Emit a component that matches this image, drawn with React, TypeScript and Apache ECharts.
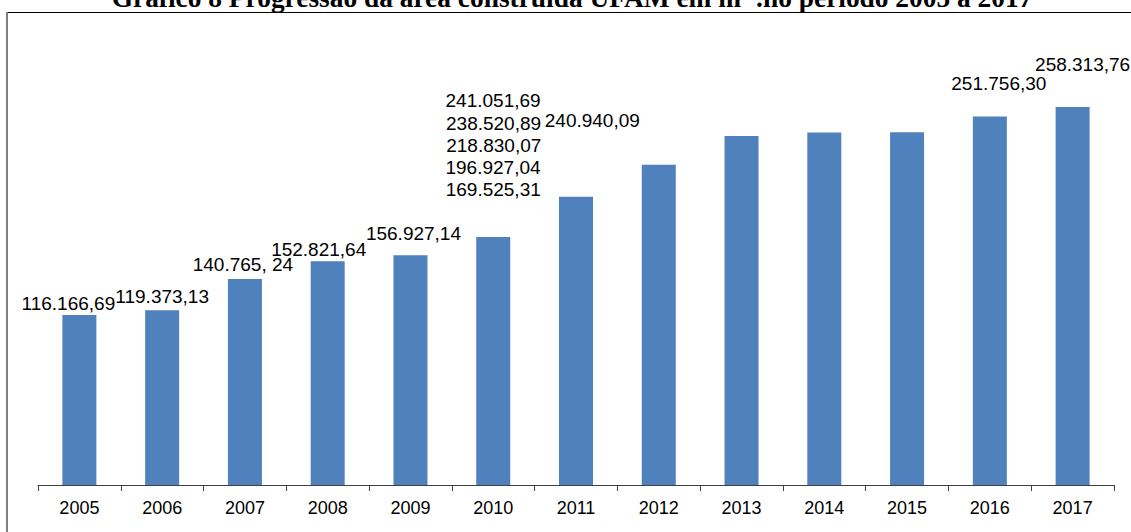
import React, { useEffect, useRef } from "react";
import * as echarts from "echarts";

const categories = ["2005", "2006", "2007", "2008", "2009", "2010", "2011", "2012", "2013", "2014", "2015", "2016", "2017"];
const values = [116166.69, 119373.13, 140765.24, 152821.64, 156927.14, 169525.31, 196927.04, 218830.07, 238520.89, 240940.09, 241051.69, 251756.3, 258313.76];
const valueLabels = ["116.166,69", "119.373,13", "140.765, 24", "152.821,64", "156.927,14", "169.525,31", "196.927,04", "218.830,07", "238.520,89", "240.940,09", "241.051,69", "251.756,30", "258.313,76"];
const labelOffsets: [number, number][] = [
  [-11, 3], [0, 1], [-2, 0], [-9, 3], [3, -7], [0, -33], [-83, -15],
  [-165, -5], [-248, 2], [-232, 3], [-414, -17], [9, -19], [10, -28],
];
const titleText = "Gráfico 8 Progressão da área construída UFAM em m² .no período 2005 a 2017";

export default function App() {
  const ref = useRef<HTMLDivElement>(null);
  useEffect(() => {
    document.body.style.margin = "0";
    const chart = echarts.init(ref.current!, null, { renderer: "svg" });
    chart.setOption({
      animation: false,
      backgroundColor: "#ffffff",
      grid: { left: 38, right: 17, top: 46, bottom: 47, containLabel: false },
      xAxis: {
        type: "category",
        data: categories,
        boundaryGap: true,
        axisLine: { show: true, lineStyle: { color: "#404040", width: 1 } },
        axisTick: { show: true, alignWithLabel: false, length: 6, lineStyle: { color: "#404040" } },
        axisLabel: { color: "#000", fontSize: 18, fontFamily: "Liberation Sans", margin: 14 },
      },
      yAxis: {
        type: "value",
        min: 0,
        max: 300000,
        show: false,
        splitLine: { show: false },
      },
      graphic: [
        { type: "line", shape: { x1: 6, y1: 12.5, x2: 1131, y2: 12.5 }, style: { stroke: "#000", lineWidth: 1 } },
        { type: "line", shape: { x1: 7, y1: 12, x2: 7, y2: 532 }, style: { stroke: "#808080", lineWidth: 2 } },
        {
          type: "text",
          x: 572,
          y: 11.5,
          style: {
            text: titleText,
            fill: "#000",
            font: "bold 27.4px 'Liberation Serif'",
            align: "center",
            verticalAlign: "bottom",
          },
        },
      ],
      series: [
        {
          type: "bar",
          barWidth: 34,
          itemStyle: { color: "#4F81BD" },
          data: values.map((v, i) => ({
            value: v,
            label: {
              show: true,
              position: "top",
              distance: 5,
              offset: labelOffsets[i],
              formatter: valueLabels[i],
              color: "#000",
              fontSize: 19,
              fontFamily: "Liberation Sans",
            },
          })),
        },
      ],
    });
    return () => chart.dispose();
  }, []);
  return <div ref={ref} style={{ width: 1131, height: 532 }} />;
}
